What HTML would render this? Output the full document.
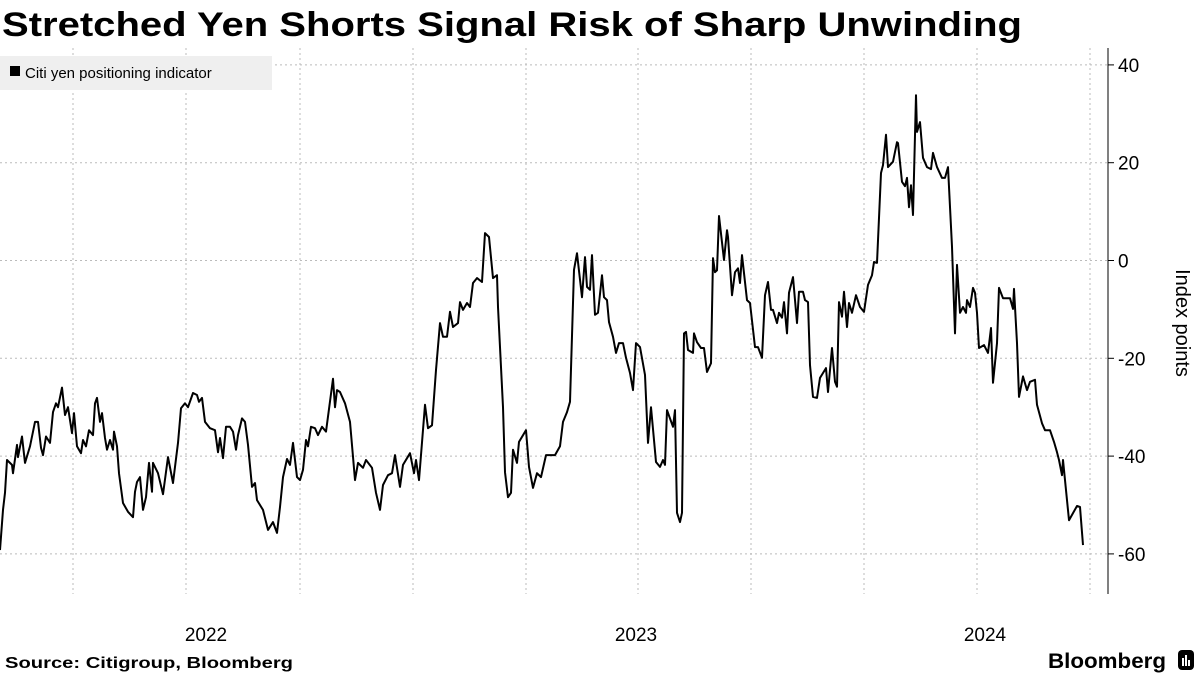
<!DOCTYPE html>
<html><head><meta charset="utf-8"><style>
body{margin:0;background:#fff;}
svg{display:block;font-family:"Liberation Sans",sans-serif;}
</style></head><body>
<svg width="1200" height="675" viewBox="0 0 1200 675">
<text x="2" y="36" font-size="34" font-weight="bold" textLength="1020" lengthAdjust="spacingAndGlyphs">Stretched Yen Shorts Signal Risk of Sharp Unwinding</text>
<g id="grid"></g>
<g id="yaxis"></g>
<g id="xaxis"></g>
<path id="line" fill="none" stroke="#000" stroke-width="2" stroke-linejoin="round"/>
<g>
<rect x="0" y="56" width="272" height="34" fill="#efefef"/>
<rect x="10" y="66" width="10" height="10" fill="#000"/>
<text x="25" y="78" font-size="15">Citi yen positioning indicator</text>
</g>
<text transform="translate(1176,323) rotate(90)" text-anchor="middle" font-size="20">Index points</text>
<text x="5" y="668" font-size="16" font-weight="bold" textLength="288" lengthAdjust="spacingAndGlyphs">Source: Citigroup, Bloomberg</text>
<text x="1048" y="668" font-size="21" font-weight="bold" textLength="118" lengthAdjust="spacingAndGlyphs">Bloomberg</text>
<g><rect x="1178" y="650" width="16" height="20" rx="4" fill="#000"/><rect x="1182" y="658" width="2" height="8" fill="#fff"/><rect x="1185" y="655" width="2" height="11" fill="#fff"/><rect x="1188" y="660" width="2" height="6" fill="#fff"/></g>
</svg>
<script>
const obsIndex=[0,3,5,7,12,13,17,18,22,25,30,35,38,41,43,46,50,53,56,58,62,65,68,72,74,77,81,83,86,89,93,95,97,100,102,105,107,110,113,114,117,119,123,128,133,135,137,140,143,146,149,152,153,158,163,168,173,175,178,181,185,188,193,197,199,202,205,210,215,218,220,223,226,230,233,236,238,242,245,248,252,255,257,263,268,273,277,280,283,287,290,293,297,300,303,306,308,311,315,318,322,326,333,335,337,340,345,350,355,358,363,366,372,376,380,383,388,392,395,400,403,410,414,416,419,425,428,432,436,440,443,447,450,453,458,460,463,467,470,473,477,482,485,489,493,497,498,503,505,508,511,513,517,519,526,529,533,537,541,546,555,560,563,567,570,574,577,582,585,587,590,592,595,598,602,604,607,609,613,616,619,623,626,630,633,636,640,645,648,651,656,660,663,665,667,673,675,677,680,682,684,686,688,693,694,697,701,704,707,711,713,715,717,719,724,727,728,732,735,738,740,742,747,750,755,758,762,765,768,771,773,777,779,782,784,787,789,793,797,799,803,805,808,810,813,817,820,826,828,832,835,837,839,842,844,847,849,852,856,860,864,868,872,874,877,881,883,886,888,893,897,898,902,905,907,909,911,913,916,917,920,923,927,931,933,937,942,945,948,952,955,957,960,963,966,967,970,973,975,977,979,984,988,991,993,997,999,1003,1010,1013,1014,1017,1019,1023,1027,1030,1035,1037,1042,1045,1050,1054,1057,1059,1062,1063,1069,1077,1080,1083];
const indexValues=[-59.2,-51,-47.5,-40.8,-41.8,-43.5,-37.7,-40.2,-36,-41.4,-38,-33,-33,-38.3,-39.8,-36,-37.3,-31,-29.2,-30,-26,-31.6,-30,-35.3,-31.2,-38,-39.4,-36.7,-38,-34.7,-35.7,-29.2,-28.1,-33,-31.2,-36.3,-38.7,-36.7,-38.7,-35,-38,-43.5,-49.6,-51.4,-52.5,-47.3,-45.3,-44.3,-51,-48.4,-41.4,-47.3,-41.4,-43.5,-47.8,-40.2,-45.5,-42.2,-37.3,-30.2,-29.2,-30,-27.1,-27.5,-28.9,-28.1,-33,-34.3,-34.7,-39.2,-36.3,-40.4,-34,-34,-35,-38.7,-35.7,-32.3,-33,-37.7,-46.3,-45.5,-49,-51,-55.1,-53.5,-55.7,-50.4,-44.3,-40.6,-41.8,-37.3,-44.3,-44.9,-42.8,-36.7,-38,-34,-34.3,-35.7,-34,-35,-24.2,-30,-26.5,-26.9,-29.2,-33,-44.9,-41.4,-42.4,-40.8,-42.4,-47.5,-51,-45.9,-43.9,-43.5,-39.8,-46.3,-41.8,-39.4,-43.5,-40.8,-44.9,-29.5,-34.3,-33.7,-22.4,-12.8,-15.6,-15.6,-10.5,-13.6,-12.8,-8.5,-10.1,-8.7,-9.5,-4.6,-3.6,-4.4,5.6,4.8,-3.6,-3,-9.5,-30,-43.3,-48.4,-47.5,-38.7,-41.4,-37.1,-34.7,-42.2,-46.5,-43.5,-44.3,-39.8,-39.8,-38,-33,-31,-28.9,-1.9,1.5,-7.5,0.7,-5.4,-6,1.1,-11.1,-10.7,-3,-7.5,-8.1,-12.6,-15.6,-18.9,-16.9,-16.9,-19.9,-23,-26.5,-16.9,-17.7,-23.4,-37.3,-30,-41.2,-42.2,-40.8,-41.8,-30.6,-34,-30.6,-51.6,-53.5,-51.6,-14.9,-14.6,-18.3,-18.9,-14.9,-16.7,-17.9,-17.9,-22.8,-21,0.5,-2.4,-2,9.1,0.1,6.2,4.8,-7.1,-2.4,-1.6,-4.6,1.1,-8.1,-8.7,-17.7,-17.7,-19.9,-7.1,-4.4,-10.1,-10.1,-12.8,-10.7,-11.7,-8.5,-14.9,-6.6,-3.4,-12.8,-6.4,-6.4,-8.1,-8.5,-21.4,-27.9,-28.1,-24,-22,-26.9,-17.9,-24.8,-25.8,-8.5,-11.5,-6.4,-13.6,-8.7,-10.7,-7.1,-9.5,-10.5,-5,-3,-0.3,-0.5,17.9,19.5,25.7,19.1,20.2,24.2,24,16.1,15.2,16.9,10.9,15.4,9.3,33.8,26.3,28.3,21,19.1,18.7,22,19.1,16.9,16.9,19.1,2.8,-14.9,-0.9,-10.7,-9.5,-10.7,-8.1,-9.5,-5.6,-6.6,-10.7,-17.9,-17.3,-18.9,-13.8,-25,-16.9,-5.6,-7.7,-7.7,-9.9,-5.8,-16.9,-27.9,-23.7,-26.5,-24.8,-24.4,-29.5,-33.3,-34.7,-34.7,-37.1,-39.2,-40.8,-43.9,-40.8,-53.1,-50.2,-50.4,-58.2];
const yTicks=[40,20,0,-20,-40,-60];
const xGridIndex=[73,186,300,413,526,638,751,864,977,1090];
const yearLabels=["2022","2023","2024"];
const yearLabelIndex=[206,636,985];

const X0=0,X1=1083,PX0=0,PX1=1083;
const yScale=v=>260.5-v*4.89;
const xScale=i=>PX0+(i-X0)*(PX1-PX0)/(X1-X0);
const NS="http://www.w3.org/2000/svg";
const grid=document.getElementById('grid'),ya=document.getElementById('yaxis'),xa=document.getElementById('xaxis');
function mk(tag,attrs,parent){const e=document.createElementNS(NS,tag);for(const k in attrs)e.setAttribute(k,attrs[k]);parent.appendChild(e);return e;}
yTicks.forEach(t=>{
  const y=yScale(t);
  const g=mk('line',{x1:0,x2:1108,y1:y,y2:y,stroke:'#bbb','stroke-dasharray':'2,3','stroke-width':1},grid);
  
  
  const tk=mk('line',{x1:1108,x2:1114,y1:y,y2:y,stroke:'#000'},ya);
  
  
  const tx=mk('text',{x:1118,y:y+7,'font-size':19},ya);
  tx.textContent=t<0?'-'+Math.abs(t):String(t);
  
  
});
const axl=mk('line',{x1:1108,x2:1108,y1:48,y2:594,stroke:'#000','stroke-width':1},ya);


xGridIndex.forEach(i=>{
  const x=xScale(i);
  const g=mk('line',{x1:x,x2:x,y1:48,y2:594,stroke:'#bbb','stroke-dasharray':'2,3','stroke-width':1},grid);
  
  
});
yearLabels.forEach((l,k)=>{
  const t=mk('text',{x:xScale(yearLabelIndex[k]),y:641,'font-size':19,'text-anchor':'middle'},xa);
  t.textContent=l;
  
  
});
let d='';
indexValues.forEach((v,k)=>{d+=(k?'L':'M')+xScale(obsIndex[k]).toFixed(1)+','+yScale(v).toFixed(1);});
document.getElementById('line').setAttribute('d',d);
</script>
</body></html>
